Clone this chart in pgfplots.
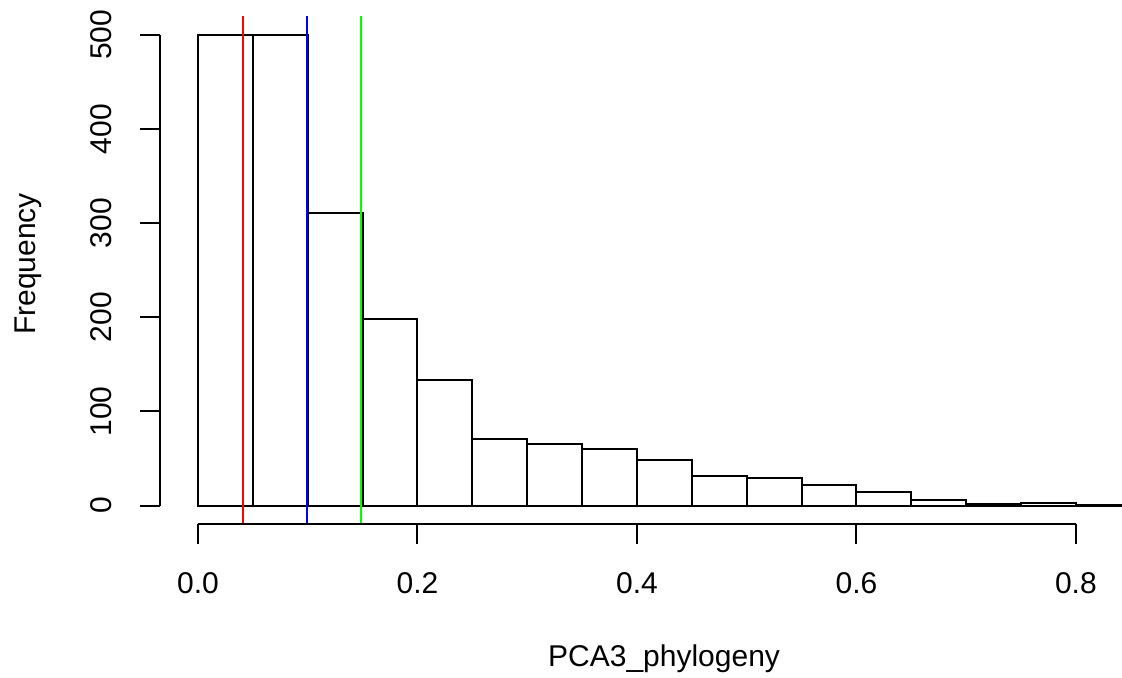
\documentclass[border=0pt]{standalone}
\usepackage{fontspec}
\setmainfont{Liberation Sans}
\usepackage{pgfplots}
\pgfplotsset{compat=1.18}

\begin{document}
\begin{tikzpicture}[font=\fontsize{15}{18}\selectfont]
\begin{axis}[
  scale only axis,
  width=481pt, height=254pt,
  xmin=-0.0346, xmax=0.842,
  ymin=-19.5, ymax=520,
  axis lines*=left,
  axis line style={draw=none},
  clip mode=individual,
  tick align=outside,
  major tick length=9.75pt,
  every tick/.style={black, line width=1pt},
  xtick={0,0.2,0.4,0.6,0.8},
  ytick={0,100,200,300,400,500},
  xticklabel style={anchor=north, yshift=-11pt,
    /pgf/number format/fixed, /pgf/number format/fixed zerofill,
    /pgf/number format/precision=1, /pgf/number format/assume math mode=true},
  yticklabel style={/pgf/number format/assume math mode=true, xshift=-11pt, rotate=90, anchor=south},
  xlabel={PCA3\_phylogeny},
  ylabel={Frequency},
  every axis x label/.style={at={(axis description cs:0.524,-0.2795)}, anchor=base},
  every axis y label/.style={at={(axis description cs:-0.1289,0.512)}, anchor=base, rotate=90},
]
% histogram counts, bin width 0.05
\addplot[ybar interval, draw=black, fill=white, line width=1pt] coordinates {
  (0.00,500) (0.05,500) (0.10,311) (0.15,198) (0.20,133) (0.25,71)
  (0.30,66) (0.35,60) (0.40,48) (0.45,31) (0.50,29) (0.55,22)
  (0.60,15) (0.65,6) (0.70,2) (0.75,3) (0.80,1) (0.85,0)
};
\addplot[red, line width=1pt] coordinates {(0.041,-19.5) (0.041,520)};
\addplot[blue, line width=1pt] coordinates {(0.0995,-19.5) (0.0995,520)};
\addplot[color={rgb,255:red,0;green,255;blue,0}, line width=1pt] coordinates {(0.149,-19.5) (0.149,520)};
% R style axis lines, first to last tick
\draw[line width=1pt] (axis cs:0,-19.5) -- (axis cs:0.8,-19.5);
\draw[line width=1pt] (axis cs:-0.0346,0) -- (axis cs:-0.0346,500);
\coordinate (bl) at (rel axis cs:-0.16632,-0.30118);
\coordinate (tr) at (rel axis cs:1,1.0315);
\end{axis}
\pgfresetboundingbox
\useasboundingbox (bl) rectangle (tr);
\end{tikzpicture}
\end{document}
